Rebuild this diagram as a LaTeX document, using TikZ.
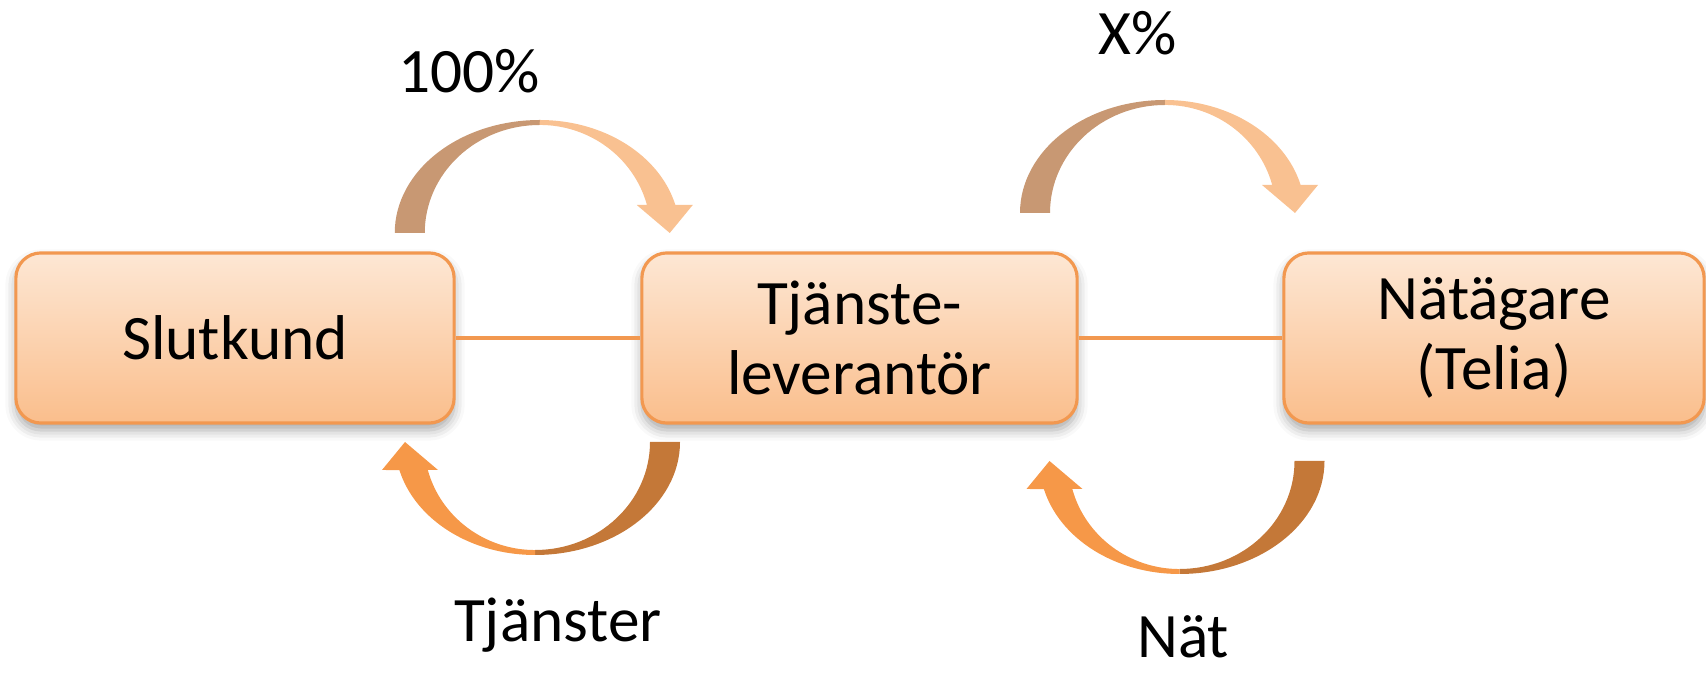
\documentclass[tikz,border=0pt]{standalone}
\usepackage{fontspec}
\setmainfont{Carlito}
\usetikzlibrary{shadows.blur}
\definecolor{boxtop}{RGB}{253,231,212}
\definecolor{boxbot}{RGB}{250,190,140}
\definecolor{boxline}{RGB}{242,152,80}
\definecolor{backtan}{RGB}{200,152,115}
\definecolor{fronttan}{RGB}{249,193,145}
\definecolor{backbrown}{RGB}{196,120,56}
\definecolor{frontorange}{RGB}{246,152,72}

\begin{document}
\begin{tikzpicture}[
        x=0.01cm, y=0.01cm,
        box/.style={draw=boxline, line width=0.9pt, rounded corners=0.25cm,
            top color=boxtop, bottom color=boxbot, minimum height=1.7cm,
            align=center, font=\fontsize{18}{20}\selectfont,
            blur shadow={shadow xshift=0pt, shadow yshift=-2pt, shadow blur radius=3pt, shadow opacity=35}},
        lbl/.style={anchor=base, font=\fontsize{18}{20}\selectfont},
        ar/.style={-, draw=boxline, line width=0.9pt},
        pics/bend/.style 2 args={code={
            \fill[#1] (-145,0) arc[start angle=180, end angle=90, x radius=145, y radius=113]
                -- (0,108) arc[start angle=90, end angle=180, x radius=115, y radius=108] -- cycle;
            \fill[#2] (0,113) arc[start angle=90, end angle=14.36, x radius=140, y radius=113]
                -- (153,28) -- (130,0) -- (97,28) -- (107.2,28)
                arc[start angle=15, end angle=90, x radius=111, y radius=108] -- cycle;
        }},
    ]
    \useasboundingbox (0,0) rectangle (1706,685);

    \node[box, minimum width=4.38cm](1) at (235,347) {Slutkund};
    \node[box, minimum width=4.35cm](2) at (859.5,347) {Tjänste-\\leverantör};
    \node[box, minimum width=4.20cm](3) at (1494,347) {Nätägare\\(Telia)};

    \path[ar]
    (1) edge (2)
    (2) edge (3)
    ;

    \pic at (539.75,452) {bend={backtan}{fronttan}};
    \pic at (1165,472) {bend={backtan}{fronttan}};
    \pic[rotate=180] at (535,243) {bend={backbrown}{frontorange}};
    \pic[rotate=180] at (1179.5,224) {bend={backbrown}{frontorange}};

    \node[lbl](a) at (469,592) {100\%};
    \node[lbl](b) at (1138,630) {X\%};
    \node[lbl](c) at (558,43) {Tjänster};
    \node[lbl](d) at (1183,27) {Nät};
\end{tikzpicture}
\end{document}
